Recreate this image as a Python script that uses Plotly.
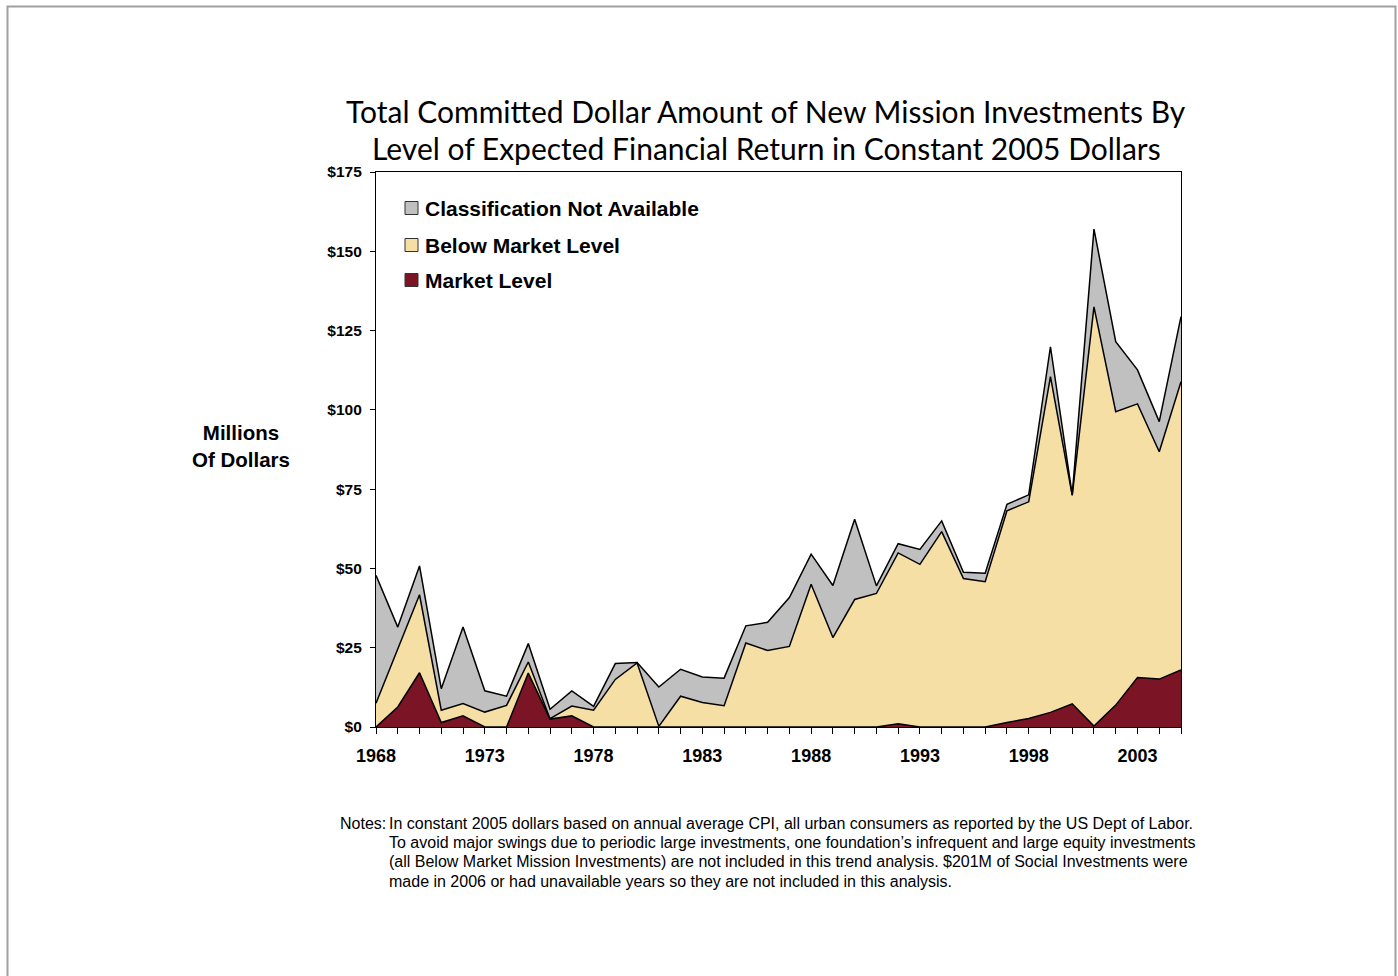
import plotly.graph_objects as go

years = list(range(1968, 2006))
market_level = [0, 6.3, 17.1, 1.4, 3.5, 0, 0, 17.0, 2.5, 3.5, 0, 0, 0, 0, 0, 0, 0, 0, 0, 0,
                0, 0, 0, 0, 1.0, 0, 0, 0, 0, 1.4, 2.7, 4.6, 7.3, 0.3, 6.9, 15.6, 15.1, 18.0]
below_market = [7.5, 18.4, 24.6, 3.9, 3.9, 4.7, 6.8, 3.5, 0.1, 3.1, 5.3, 15.0, 20.2, 0.2, 9.7, 7.7,
                6.7, 26.5, 24.1, 25.4, 45.0, 28.2, 40.2, 42.1, 53.9, 51.3, 61.6, 46.8, 45.8, 66.8,
                68.3, 105.9, 65.7, 132.2, 92.5, 86.3, 71.7, 90.9]
not_available = [40.3, 6.8, 9.1, 6.8, 24.1, 6.7, 2.9, 5.8, 3.0, 4.8, 1.2, 5.0, 0.1, 12.4, 8.5, 8.1,
                 8.7, 5.4, 8.9, 15.4, 9.5, 16.4, 25.3, 2.4, 2.9, 4.7, 3.4, 2.0, 2.7, 2.0, 2.2, 9.4,
                 0.2, 24.5, 22.1, 10.7, 9.5, 20.5]
series_names = ["Market Level", "Below Market Level", "Classification Not Available"]
series_colors = ["#7B1424", "#F6DFA4", "#C0C0C0"]
y_ticks = [0, 25, 50, 75, 100, 125, 150, 175]
x_label_years = [1968, 1973, 1978, 1983, 1988, 1993, 1998, 2003]
title_lines = ["Total Committed Dollar Amount of New Mission Investments By",
               "Level of Expected Financial Return in Constant 2005 Dollars"]
note_lines = [
    "In constant 2005 dollars based on annual average CPI, all urban consumers as reported by the US Dept of Labor.",
    "To avoid major swings due to periodic large investments, one foundation\u2019s infrequent and large equity investments",
    "(all Below Market Mission Investments) are not included in this trend analysis. $201M of Social Investments were",
    "made in 2006 or had unavailable years so they are not included in this analysis.",
]

fig = go.Figure()
for name, vals, col in zip(series_names, [market_level, below_market, not_available], series_colors):
    fig.add_trace(go.Scatter(
        x=years, y=vals, name=name, stackgroup="one", mode="lines",
        line=dict(color="black", width=1.5), fillcolor=col, showlegend=False,
    ))

FW, FH = 1398, 976
PX_L, PX_R, PX_T, PX_B = 376, 1181, 172, 727   # plot area in page pixels
W, H = PX_R - PX_L, PX_B - PX_T


def px(x):
    return (x - PX_L) / W


def py(y):
    return (PX_B - y) / H


ARIAL = "Liberation Sans, Arial, sans-serif"

fig.update_layout(
    width=FW, height=FH,
    margin=dict(l=PX_L, r=FW - PX_R, t=PX_T, b=FH - PX_B),
    paper_bgcolor="white", plot_bgcolor="white",
    font=dict(family=ARIAL, color="black"),
    showlegend=False,
    xaxis=dict(
        range=[1968, 2005], tickmode="array", tickvals=years,
        ticktext=[str(y) if y in x_label_years else "" for y in years],
        ticks="outside", ticklen=6, tickcolor="black", tickwidth=1,
        showline=True, linecolor="black", linewidth=1.2, mirror=True,
        showgrid=False, zeroline=False,
        tickfont=dict(size=18, family=ARIAL, weight="bold"),
        ticklabelstandoff=6,
    ),
    yaxis=dict(
        range=[0, 175], tickmode="array", tickvals=y_ticks,
        ticktext=["$" + str(v) for v in y_ticks],
        ticks="outside", ticklen=5, tickcolor="black", tickwidth=1,
        showline=True, linecolor="black", linewidth=1.2, mirror=True,
        showgrid=False, zeroline=False,
        tickfont=dict(size=15.5, family=ARIAL, weight="bold"),
        ticklabelstandoff=5,
    ),
)

annotations = []
for line, yc in zip(title_lines, [111, 148]):
    annotations.append(dict(
        text=line, x=px(766), y=py(yc), xref="paper", yref="paper",
        xanchor="center", yanchor="middle", showarrow=False,
        font=dict(size=30, family="Lato, Open Sans, sans-serif", color="black")))

annotations.append(dict(
    text="<b>Millions<br>Of Dollars</b>", x=px(241), y=py(446), xref="paper", yref="paper",
    xanchor="center", yanchor="middle", showarrow=False, align="center",
    font=dict(size=20.5, family=ARIAL)))

annotations.append(dict(
    text="Notes:", x=px(338), y=py(823), xref="paper", yref="paper",
    xanchor="left", yanchor="middle", showarrow=False,
    font=dict(size=16, family=ARIAL)))
for line, yc in zip(note_lines, [823, 842, 861, 881]):
    annotations.append(dict(
        text=line, x=px(387), y=py(yc), xref="paper", yref="paper",
        xanchor="left", yanchor="middle", showarrow=False,
        font=dict(size=16, family=ARIAL)))

# legend (custom swatches + labels)
legend_rows = list(zip(series_names[::-1], series_colors[::-1], [208, 245, 280]))
shapes = []
for name, col, yc in legend_rows:
    shapes.append(dict(type="rect", xref="paper", yref="paper",
                       x0=px(405), x1=px(418), y0=py(yc + 6.5), y1=py(yc - 6.5),
                       fillcolor=col, line=dict(color="#333333", width=1)))
    annotations.append(dict(
        text="<b>" + name + "</b>", x=px(423), y=py(yc), xref="paper", yref="paper",
        xanchor="left", yanchor="middle", showarrow=False,
        font=dict(size=21, family=ARIAL)))

# slide frame
shapes.append(dict(type="rect", xref="paper", yref="paper",
                   x0=px(7.5), x1=px(1395.5), y0=py(1000), y1=py(6.5),
                   line=dict(color="#A0A0A0", width=2), fillcolor="rgba(0,0,0,0)", layer="below"))

fig.update_layout(annotations=annotations, shapes=shapes)

fig.write_html("out.html", config={"displayModeBar": False},
               post_script="document.body.style.margin='0px';")
